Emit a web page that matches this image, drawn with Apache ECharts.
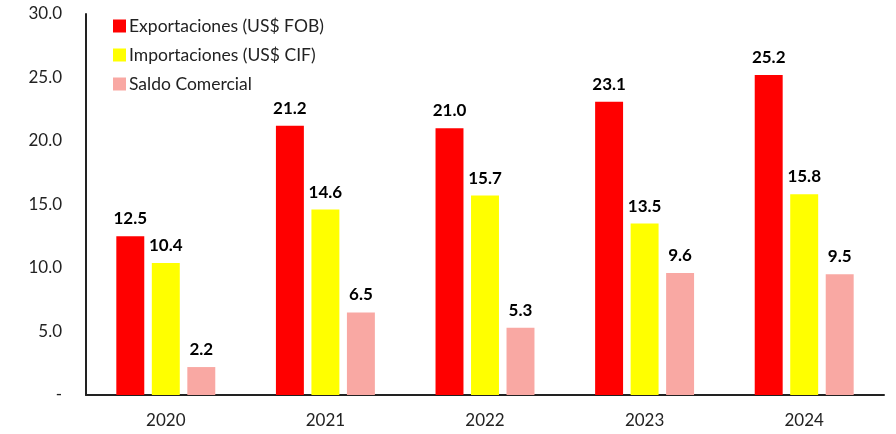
<!DOCTYPE html>
<html>
<head>
<meta charset="utf-8">
<script src="https://cdn.jsdelivr.net/npm/echarts@6/dist/echarts.min.js"></script>
<style>
  html, body { margin: 0; padding: 0; background: #fff; }
  #chart { width: 896px; height: 434px; }
</style>
</head>
<body>
<div id="chart"></div>
<script>
// datos (miles de millones US$)
var years = ['2020', '2021', '2022', '2023', '2024'];
var exportaciones = [12.5, 21.2, 21.0, 23.1, 25.2];
var importaciones = [10.4, 14.6, 15.7, 13.5, 15.8];
var saldo = [2.2, 6.5, 5.3, 9.6, 9.5];
var seriesNames = ['Exportaciones (US$ FOB)', 'Importaciones (US$ CIF)', 'Saldo Comercial'];
var colors = ['#FF0000', '#FFFF00', '#F9A8A3'];

var font = 'Lato, "Open Sans", sans-serif';

var chart = echarts.init(document.getElementById('chart'));

function barSeries(name, data, color) {
    return {
        name: name,
        type: 'bar',
        data: data,
        barGap: '27%',
        barCategoryGap: '38%',
        itemStyle: { color: color },
        label: {
            show: true,
            position: 'top',
            distance: 9,
            color: '#000',
            fontWeight: 'bold',
            fontSize: 17,
            fontFamily: font,
            formatter: function (p) { return p.value.toFixed(1); }
        }
    };
}

chart.setOption({
    animation: false,
    textStyle: { fontFamily: font },
    grid: { left: 86, right: 12, top: 14, bottom: 39 },
    legend: {
        orient: 'vertical',
        left: 108,
        top: 12,
        itemWidth: 13,
        itemHeight: 13,
        itemGap: 11,
        icon: 'rect',
        textStyle: { fontSize: 17.5, color: '#222', fontFamily: font, padding: [0, 0, 0, -2] }
    },
    xAxis: {
        type: 'category',
        data: years,
        axisLine: { lineStyle: { color: '#222', width: 2 } },
        axisTick: { show: false },
        axisLabel: { color: '#222', fontSize: 17, margin: 17, fontFamily: font }
    },
    yAxis: {
        type: 'value',
        min: 0,
        max: 30,
        interval: 5,
        splitLine: { show: false },
        axisLine: { show: true, lineStyle: { color: '#222', width: 2 } },
        axisTick: { show: false },
        axisLabel: {
            color: '#222',
            fontSize: 17,
            margin: 24,
            fontFamily: font,
            formatter: function (v) { return v === 0 ? '-' : v.toFixed(1); }
        }
    },
    series: [
        barSeries(seriesNames[0], exportaciones, colors[0]),
        barSeries(seriesNames[1], importaciones, colors[1]),
        barSeries(seriesNames[2], saldo, colors[2])
    ]
});
</script>
</body>
</html>
